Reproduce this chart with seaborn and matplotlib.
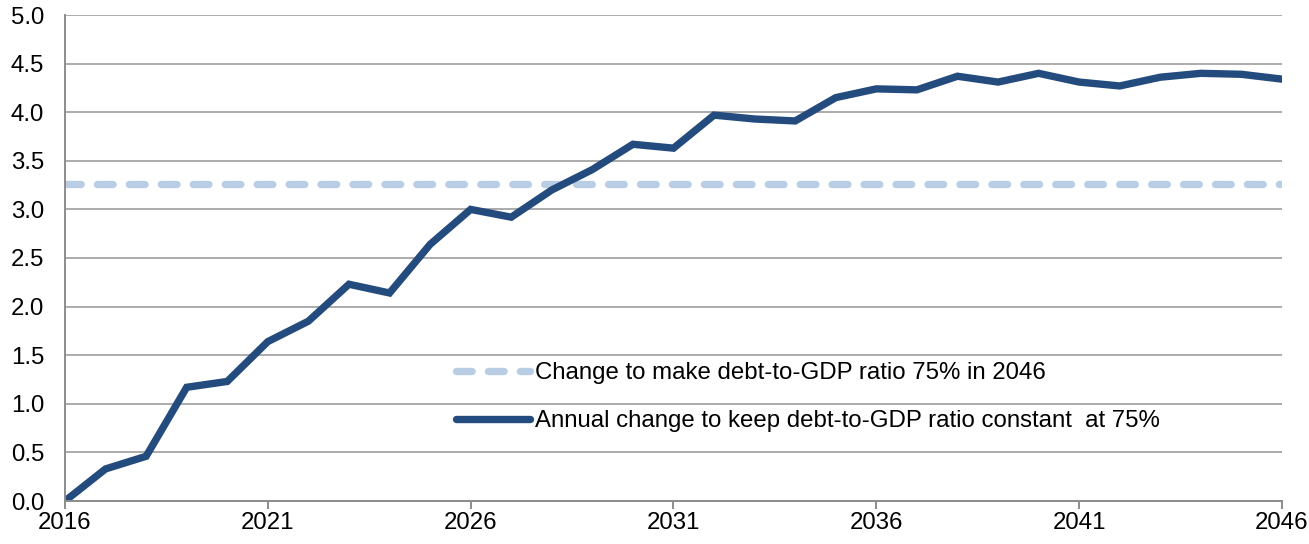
import matplotlib
matplotlib.use("Agg")
import matplotlib.pyplot as plt
import seaborn as sns
import pandas as pd

# Fiscal adjustment paths, % of GDP
years = list(range(2016, 2047))
constant_ratio_change = [
    0.00, 0.33, 0.46, 1.17, 1.23, 1.64, 1.85, 2.23, 2.14, 2.64,
    3.00, 2.92, 3.20, 3.41, 3.67, 3.63, 3.97, 3.93, 3.91, 4.15,
    4.24, 4.23, 4.37, 4.31, 4.40, 4.31, 4.27, 4.36, 4.40, 4.39,
    4.34,
]
target_2046_change = [3.26] * len(years)

label_target = "Change to make debt-to-GDP ratio 75% in 2046"
label_constant = "Annual change to keep debt-to-GDP ratio constant  at 75%"

y_ticks = [0.0, 0.5, 1.0, 1.5, 2.0, 2.5, 3.0, 3.5, 4.0, 4.5, 5.0]
x_ticks = [2016, 2021, 2026, 2031, 2036, 2041, 2046]

dark_blue = "#244B7D"
light_blue = "#B9CDE5"
grid_grey = "#ABABAB"
axis_grey = "#8C8C8C"
dash_pattern = (0, (11.3, 11.7))
font_size = 17.3

sns.set_theme(style="white")
plt.rcParams["font.family"] = ["Liberation Sans", "DejaVu Sans"]
plt.rcParams["lines.scale_dashes"] = False
plt.rcParams["text.color"] = "black"

df = pd.DataFrame({
    "year": years,
    "target": target_2046_change,
    "constant": constant_ratio_change,
})

fig = plt.figure(figsize=(13.09, 5.44), dpi=100)
ax = fig.add_axes([65 / 1309, 1 - 501 / 544, (1282 - 65) / 1309, (501 - 15) / 544])

sns.lineplot(data=df, x="year", y="target", ax=ax, color=light_blue,
             linewidth=5.3, label=label_target)
sns.lineplot(data=df, x="year", y="constant", ax=ax, color=dark_blue,
             linewidth=5.4, label=label_constant)

target_line, constant_line = ax.get_lines()[0], ax.get_lines()[1]
target_line.set_linestyle(dash_pattern)
target_line.set_dash_capstyle("round")
constant_line.set_solid_capstyle("butt")
constant_line.set_solid_joinstyle("miter")

ax.set_xlim(2016, 2046)
ax.set_ylim(0, 5.0)
ax.set_xticks(x_ticks)
ax.set_yticks(y_ticks)
ax.set_yticklabels([f"{v:.1f}" for v in y_ticks])
ax.set_xlabel("")
ax.set_ylabel("")

ax.yaxis.grid(True, color=grid_grey, linewidth=1.4)
ax.xaxis.grid(False)
ax.set_axisbelow(True)

for side in ["top", "right"]:
    ax.spines[side].set_visible(False)
for side in ["left", "bottom"]:
    ax.spines[side].set_color(axis_grey)
    ax.spines[side].set_linewidth(1.4)

ax.tick_params(axis="x", which="major", bottom=True, length=6, width=1.4,
               color=axis_grey, labelsize=font_size, labelcolor="black", pad=2)
ax.tick_params(axis="y", left=False, length=0, labelsize=font_size,
               labelcolor="black", pad=15)

handles, labels = ax.get_legend_handles_labels()
for h in handles:
    h.set_linewidth(5.3)
handles[0].set_linestyle(dash_pattern)
handles[0].set_dash_capstyle("round")
handles[1].set_solid_capstyle("round")
leg = ax.legend(handles, labels, loc="upper left",
                bbox_to_anchor=((456 - 65) / 1217, (501 - 362) / 486),
                frameon=False, fontsize=font_size, handlelength=3.1,
                handletextpad=0.2, labelspacing=1.1, borderaxespad=0,
                borderpad=0, labelcolor="black")

fig.savefig("out.png", dpi=100)
